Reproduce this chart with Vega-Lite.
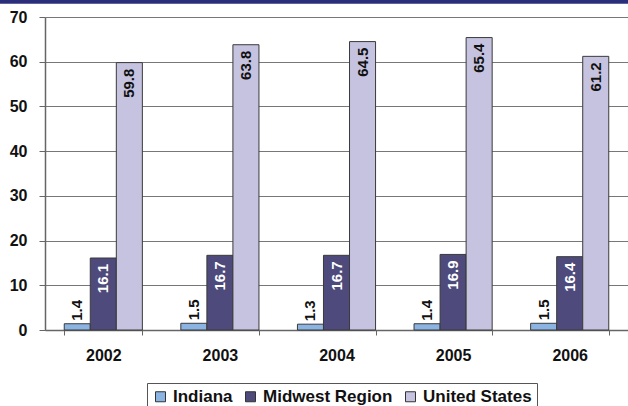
{
  "$schema": "https://vega.github.io/schema/vega-lite/v6.json",
  "autosize": {"type": "none"},
  "width": 583,
  "height": 313,
  "padding": {"left": 45, "top": 17, "right": 0, "bottom": 76},
  "background": "white",
  "config": {
    "view": {"stroke": null},
    "font": "Liberation Sans"
  },
  "datasets": {
    "main": [
      {"year": "2002", "region": "Indiana", "value": 1.4},
      {"year": "2002", "region": "Midwest Region", "value": 16.1},
      {"year": "2002", "region": "United States", "value": 59.8},
      {"year": "2003", "region": "Indiana", "value": 1.5},
      {"year": "2003", "region": "Midwest Region", "value": 16.7},
      {"year": "2003", "region": "United States", "value": 63.8},
      {"year": "2004", "region": "Indiana", "value": 1.3},
      {"year": "2004", "region": "Midwest Region", "value": 16.7},
      {"year": "2004", "region": "United States", "value": 64.5},
      {"year": "2005", "region": "Indiana", "value": 1.4},
      {"year": "2005", "region": "Midwest Region", "value": 16.9},
      {"year": "2005", "region": "United States", "value": 65.4},
      {"year": "2006", "region": "Indiana", "value": 1.5},
      {"year": "2006", "region": "Midwest Region", "value": 16.4},
      {"year": "2006", "region": "United States", "value": 61.2}
    ],
    "band": [{"left": -0.0772, "right": 1, "top": 73.8, "bottom": 72.95}]
  },
  "layer": [
    {
      "data": {"name": "band"},
      "mark": {"type": "rect", "color": "#2b2e7b", "clip": false},
      "encoding": {
        "x": {"field": "left", "type": "quantitative", "scale": {"domain": [0, 1]}, "axis": null},
        "x2": {"field": "right"},
        "y": {"field": "top", "type": "quantitative", "scale": {"domain": [0, 70]}, "axis": null},
        "y2": {"field": "bottom"}
      }
    },
    {
      "data": {"name": "main"},
      "encoding": {
        "x": {
          "field": "year", "type": "nominal",
          "scale": {"paddingInner": 0.33, "paddingOuter": 0.165},
          "axis": {
            "title": null, "labelAngle": 0, "labelFont": "Liberation Sans",
            "labelFontWeight": "bold", "labelFontSize": 16, "labelColor": "#111",
            "labelPadding": 12, "tickBand": "extent", "tickSize": 5,
            "tickColor": "#666", "domainColor": "#666", "domainWidth": 1.5
          }
        },
        "xOffset": {"field": "region", "type": "nominal", "scale": {"paddingInner": 0, "paddingOuter": 0}},
        "y": {
          "field": "value", "type": "quantitative",
          "scale": {"domain": [0, 70], "nice": false},
          "axis": {
            "title": null, "values": [0, 10, 20, 30, 40, 50, 60, 70],
            "labelFont": "Liberation Sans", "labelFontWeight": "bold", "labelFontSize": 16,
            "labelColor": "#111", "labelPadding": 12, "tickSize": 6,
            "tickColor": "#666", "domainColor": "#666", "domainWidth": 1.5,
            "grid": true, "gridColor": "#777", "gridWidth": 1.2
          }
        }
      },
      "layer": [
        {
          "mark": {"type": "bar", "stroke": "#3a3a3a", "strokeWidth": 1},
          "encoding": {
            "color": {
              "field": "region", "type": "nominal",
              "scale": {"domain": ["Indiana", "Midwest Region", "United States"], "range": ["#8cb4e2", "#4e4a7c", "#c6c3e0"]},
              "legend": {
                "title": null, "orient": "none", "legendX": 102, "legendY": 366, "direction": "horizontal",
                "symbolType": "square", "symbolSize": 100, "symbolStrokeColor": "#333",
                "symbolStrokeWidth": 1, "labelFont": "Liberation Sans", "labelFontWeight": "bold",
                "labelFontSize": 17, "labelColor": "#111", "labelOffset": 4, "columnPadding": 9,
                "padding": 5, "strokeColor": "#555", "fillColor": "white"
              }
            }
          }
        },
        {
          "transform": [{"filter": "datum.region === 'Indiana'"}],
          "mark": {"type": "text", "angle": 270, "align": "left", "baseline": "middle", "dx": 3, "fontSize": 15, "fontWeight": "bold", "font": "Liberation Sans", "color": "#111"},
          "encoding": {"text": {"field": "value", "type": "quantitative", "format": ".1f"}}
        },
        {
          "transform": [{"filter": "datum.region !== 'Indiana'"}],
          "mark": {"type": "text", "angle": 270, "align": "right", "baseline": "middle", "dx": -6, "fontSize": 15, "fontWeight": "bold", "font": "Liberation Sans"},
          "encoding": {
            "text": {"field": "value", "type": "quantitative", "format": ".1f"},
            "color": {"condition": {"test": "datum.region === 'Midwest Region'", "value": "white"}, "value": "#111"}
          }
        }
      ]
    }
  ],
  "resolve": {"scale": {"x": "independent", "y": "independent"}}
}
